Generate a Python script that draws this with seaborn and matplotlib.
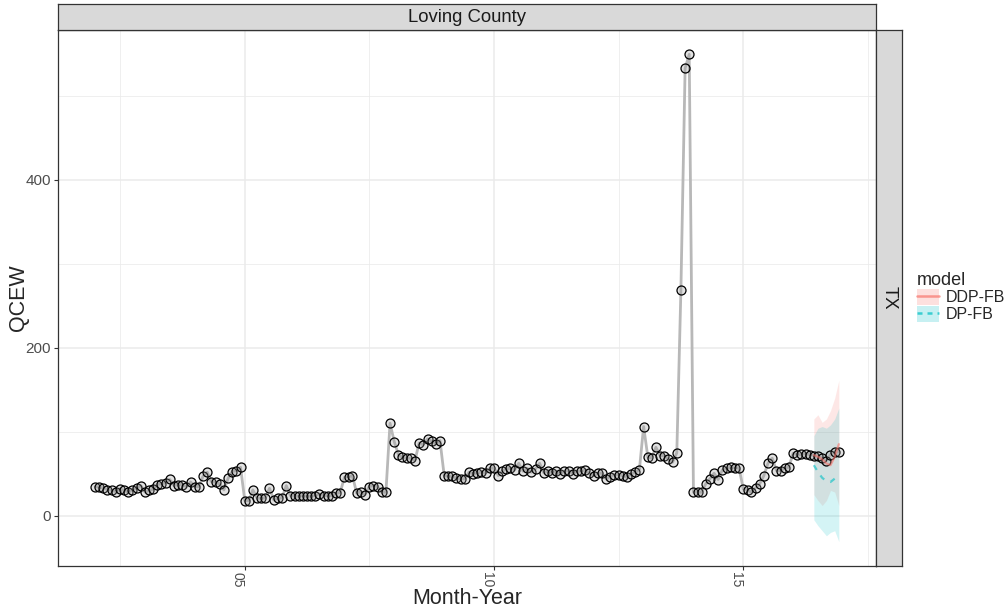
import matplotlib
matplotlib.use("Agg")
import matplotlib.pyplot as plt
import matplotlib.dates as mdates
from matplotlib.patches import Patch
from matplotlib.lines import Line2D
import numpy as np
import pandas as pd
import seaborn as sns

# observed QCEW, monthly Jan 2002 .. Dec 2016
qcew = [34.5, 33.7, 33, 31, 30, 28.6, 31.8, 30, 27.8, 31, 33, 35.7,
        28, 30, 31.3, 37, 37.7, 39, 43, 35.7, 37, 37, 34.5, 40,
        34.5, 34.5, 46.8, 51.6, 40.5, 39.7, 37.7, 30.6, 44.4, 52.4, 53.6, 57.5,
        17.9, 17.9, 30.6, 20.6, 20.6, 21, 32.5, 18.7, 21, 21, 35.7, 23.8,
        23, 23, 23.8, 23, 23, 23.8, 25.8, 23.8, 23.8, 23.8, 26.6, 27.4,
        45.6, 46.4, 47.2, 26.6, 28.6, 25, 34.5, 35.7, 34.5, 27.8, 27.8, 110,
        88, 72.2, 69.4, 68.3, 68.3, 65.5, 86.5, 84.5, 91.3, 88.5, 85.3, 89.3,
        47.6, 46.8, 46.8, 44.4, 43.7, 43.7, 51.6, 49.6, 50.8, 51.6, 50.4, 56.3,
        56.7, 47.6, 52.8, 55.6, 56.3, 54.4, 62.3, 52.8, 56.3, 51.6, 55.6, 62.3,
        50.8, 53.6, 50.8, 52.8, 49.6, 52.8, 53.6, 49.6, 52.8, 52.8, 54.4, 50.4,
        47.6, 50.4, 50.4, 43.7, 46.4, 48.8, 48.4, 47.6, 45.6, 49.6, 51.6, 54.8,
        106, 69.4, 68.7, 81.3, 71.4, 71.4, 67.5, 63.5, 74.6, 268, 532.5, 549,
        27.8, 27.8, 27.8, 37.7, 43.7, 50.4, 42.9, 54.4, 56.3, 57.5, 56.7, 56.7,
        31.7, 30.6, 27.8, 33, 37.7, 47.6, 62.3, 68.3, 53.6, 53.6, 56.7, 57.5,
        74.2, 72, 73, 73.5, 72.6, 71.5, 70.5, 68.5, 65.5, 72.6, 76, 76]
start_month = "2002-01-01"

# forecasts Jun 2016 .. Dec 2016
fc_start = "2016-06-01"
ddp_mean = [72, 70, 67, 62, 60, 70, 85]
ddp_lo = [25, 18, 12, 18, 30, 28, 12]
ddp_hi = [115, 120, 111, 115, 125, 140, 161]
dp_mean = [60, 52, 45, 41, 40, 44, 49]
dp_lo = [-5, -12, -18, -24, -20, -18, -31]
dp_hi = [95, 104, 106, 104, 108, 115, 128]

models = ["DDP-FB", "DP-FB"]
colors = {"DDP-FB": "#F8766D", "DP-FB": "#00BFC4"}

obs = pd.DataFrame({"date": pd.date_range(start_month, periods=len(qcew), freq="MS"),
                    "QCEW": qcew})
fdates = pd.date_range(fc_start, periods=len(ddp_mean), freq="MS")
fc = pd.concat([
    pd.DataFrame({"date": fdates, "mean": ddp_mean, "lo": ddp_lo, "hi": ddp_hi, "model": "DDP-FB"}),
    pd.DataFrame({"date": fdates, "mean": dp_mean, "lo": dp_lo, "hi": dp_hi, "model": "DP-FB"}),
])

sns.set_theme(style="white")
plt.rcParams["font.family"] = ["Liberation Sans", "DejaVu Sans"]

fig = plt.figure(figsize=(10.07, 6.08), dpi=100)
L, R, T, B = 58, 876, 30, 566
W, H = 1007, 608
ax = fig.add_axes([L / W, 1 - B / H, (R - L) / W, (B - T) / H])

sns.lineplot(data=obs, x="date", y="QCEW", color="#B8B8B8", linewidth=2.0, ax=ax, zorder=2)

for m in models:
    d = fc[fc.model == m]
    ax.fill_between(d["date"], d["lo"], d["hi"], color=colors[m], alpha=0.17, linewidth=0, zorder=1)

sns.scatterplot(data=obs, x="date", y="QCEW", color="#c0c0c0", edgecolor="black",
                linewidth=0.9, s=42, ax=ax, zorder=3)
ax.collections[-1].set_facecolor((0.6, 0.6, 0.6, 0.28))

sns.lineplot(data=fc, x="date", y="mean", hue="model", style="model",
             palette=colors, dashes={"DDP-FB": "", "DP-FB": (2.5, 3)},
             linewidth=1.6, alpha=0.6, ax=ax, legend=False, zorder=4)

# axis limits with ggplot-like 5% expansion
x0 = mdates.date2num(obs["date"].min())
x1 = mdates.date2num(obs["date"].max())
dx = (x1 - x0) * 0.05
ax.set_xlim(x0 - dx, x1 + dx)
ymin = min(min(ddp_lo), min(dp_lo), min(qcew))
ymax = max(max(ddp_hi), max(dp_hi), max(qcew))
dy = (ymax - ymin) * 0.05
ax.set_ylim(ymin - dy, ymax + dy)

ticks = pd.to_datetime(["2005-01-01", "2010-01-01", "2015-01-01"])
ax.set_xticks(ticks)
ax.set_xticklabels(["05", "10", "15"], rotation=-90, ha="right", color="#4D4D4D", fontsize=10)
minor = pd.to_datetime(["2002-07-02", "2007-07-02", "2012-07-02", "2017-07-02"])
ax.set_xticks(minor, minor=True)
ax.set_yticks([0, 200, 400])
ax.set_yticks([100, 300, 500], minor=True)
ax.tick_params(axis="y", labelcolor="#4D4D4D", labelsize=11)
ax.tick_params(which="major", length=3, width=0.8, color="#333333", direction="out",
               bottom=True, left=True, pad=2)
ax.tick_params(axis="x", pad=1.5)
ax.tick_params(which="minor", length=0)
ax.grid(which="major", color="#EBEBEB", linewidth=1.1)
ax.grid(which="minor", color="#EBEBEB", linewidth=0.55)
ax.set_axisbelow(True)
for s in ax.spines.values():
    s.set_color("#333333")
    s.set_linewidth(0.9)
ax.set_xlabel("Month-Year", fontsize=15.5, va="center")
ax.set_ylabel("QCEW", fontsize=15.5, va="center")
ax.xaxis.set_label_coords(0.5, (608 - 598.5 - (H - B)) / (B - T))
ax.yaxis.set_label_coords((18 - L) / (R - L), 0.5)

# facet strips
top = fig.add_axes([L / W, 1 - T / H, (R - L) / W, 26 / H])
right = fig.add_axes([R / W, 1 - B / H, 26 / W, (B - T) / H])
for sa in (top, right):
    sa.set_facecolor("#D9D9D9")
    sa.set_xticks([])
    sa.set_yticks([])
    for s in sa.spines.values():
        s.set_color("#333333")
        s.set_linewidth(0.9)
top.text(0.5, 0.5, "Loving County", ha="center", va="center", fontsize=13.3, color="#1A1A1A")
right.text(0.5, 0.5, "TX", ha="center", va="center", rotation=-90, fontsize=13.3, color="#1A1A1A")

handles = []
for m in models:
    ls = "-" if m == "DDP-FB" else (0, (2, 2))
    handles.append((Patch(facecolor=colors[m], alpha=0.22, edgecolor="none"),
                    Line2D([], [], color=colors[m], lw=1.8, ls=ls, alpha=0.7)))
fig.legend(handles, models, title="model", loc="center left",
           bbox_to_anchor=(914 / W, 1 - 297 / H), frameon=False, fontsize=11.5,
           title_fontsize=13, handlelength=1.38, handleheight=1.1, handletextpad=0.38,
           labelspacing=0.05, borderpad=0.2, borderaxespad=0, alignment="left")

fig.savefig("out.png", dpi=100)
